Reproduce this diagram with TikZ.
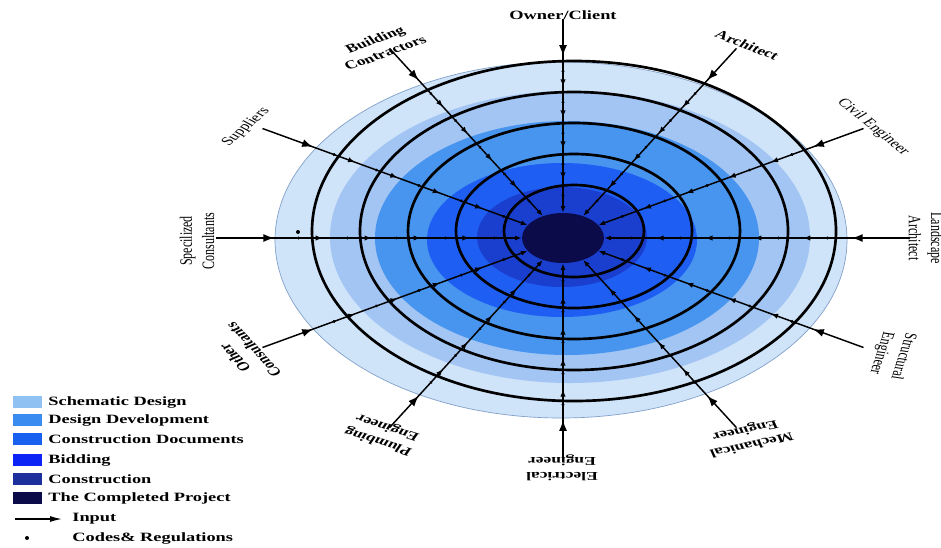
\documentclass[tikz,border=0pt]{standalone}
\usepackage{fontspec}
\setmainfont{Liberation Serif}
\usetikzlibrary{arrows.meta,decorations.markings,shapes.geometric,calc}
\definecolor{fA}{HTML}{CFE3F9}
\definecolor{fAe}{HTML}{7E9EC8}
\definecolor{fB}{HTML}{A3C5F3}
\definecolor{fC}{HTML}{4795EF}
\definecolor{fD}{HTML}{1F5EF3}
\definecolor{fE}{HTML}{1A3FCF}
\definecolor{fF}{HTML}{0B0B4A}
\definecolor{lgA}{HTML}{8FC1F2}
\definecolor{lgB}{HTML}{3B8CF0}
\definecolor{lgC}{HTML}{1760F0}
\definecolor{lgD}{HTML}{0B24F5}
\definecolor{lgE}{HTML}{1C2F9C}
\definecolor{lgF}{HTML}{0A0B48}
\begin{document}
\begin{tikzpicture}[x=0.75pt,y=-0.75pt,
  ring/.style={draw=black,line width=2pt},
  spoke/.style={line width=1.1pt,-{Latex[length=5pt,width=3.8pt]},
    postaction={decorate},
    decoration={markings,
      mark=at position 0.19 with {\arrow{Latex[length=8pt,width=6pt]}},
      mark=at position 0.27 with {\fill circle (1.2pt);},
      mark=at position 0.35 with {\arrow{Latex[length=5.5pt,width=4pt]}},
      mark=at position 0.43 with {\fill circle (1.2pt);},
      mark=at position 0.51 with {\arrow{Latex[length=5.5pt,width=4pt]}},
      mark=at position 0.59 with {\fill circle (1.2pt);},
      mark=at position 0.67 with {\arrow{Latex[length=5.5pt,width=4pt]}},
      mark=at position 0.75 with {\fill circle (1.2pt);},
      mark=at position 0.83 with {\arrow{Latex[length=5.5pt,width=4pt]}},
      mark=at position 0.91 with {\fill circle (1.2pt);}}},
  lab/.code={%
    \pgfmathsetmacro\labc{cos(#1)}%
    \pgfmathsetmacro\labs{sin(#1)}%
    \pgfmathsetmacro\labn{sqrt((\labc/1.45)^2+(\labs)^2)}%
    \pgfmathsetmacro\laba{\labc/\labn}%
    \pgfmathsetmacro\labb{\labs/\labn}%
    \pgfmathsetmacro\labcc{-1.45*\labs/\labn}%
    \pgfmathsetmacro\labd{\labc/(1.45*\labn)}%
    \tikzset{inner sep=0pt,align=center,font=\fontsize{9}{11.5}\selectfont,
      cm={\laba,\labb,\labcc,\labd,(0,0)}}},
  labB/.style={lab=#1,font=\fontsize{9}{11.5}\selectfont\bfseries},
  swatch/.style={rectangle,inner sep=0pt,minimum width=21.75pt,minimum height=8.5pt},
  legtext/.style={inner sep=0pt,anchor=west,font=\fontsize{9.5}{11}\selectfont\bfseries,xscale=1.45},
  dotn/.style={circle,fill=black,inner sep=0pt,minimum size=3pt}
]
\fill[white] (0,0) rectangle (941,547);
\useasboundingbox (0,0) rectangle (941,547);

% phase fills
\fill[fA,draw=fAe,line width=0.5pt] (561,240) ellipse [x radius=286,y radius=178];
\fill[fB] (570,237) ellipse [x radius=240,y radius=146];
\fill[fC] (567,238) ellipse [x radius=192,y radius=117];
\fill[fD] (562,240) ellipse [x radius=135,y radius=77];
\fill[fE] (562,237) ellipse [x radius=85,y radius=50];

% rings
\foreach \k in {0,...,4}
  \draw[ring] (574,231) ellipse [x radius={262-48*\k},y radius={170-31*\k}];

% completed project core
\node[ellipse,fill=fF,inner sep=0pt,minimum width=61.5pt,minimum height=37.5pt] (core) at (563,238) {};

% spokes
\foreach \a/\n in {90/own,60/arc,30/civ,0/lan,-30/str,-60/mec,-90/ele,-120/plu,-150/oth,180/spe,150/sup,120/bui}{
  \coordinate (s-\n) at ({563+347*cos(\a)},{238-219*sin(\a)});
  \draw[spoke] (s-\n) -- (core);
}

% codes & regulations dot
\node[dotn] (code) at (298,232) {};

% labels
\node[labB=0,font=\fontsize{9.5}{11}\selectfont\bfseries] (own) at (563,15) {Owner/Client};
\node[labB=20] (bui) at (380,46) {Building\\Contractors};
\node[lab=41] (sup) at (246,127) {Suppliers};
\node[lab=90] (spe) at (197,241) {Specilized\\Consultants};
\node[labB=133] (oth) at (244,354) {Other\\Consultants};
\node[labB=162] (plu) at (383,434) {Plumbing\\Engineer};
\node[labB=180] (ele) at (562,468) {Electrical\\Engineer};
\node[labB=192] (mec) at (748,437) {Mechanical\\Engineer};
\node[lab=252] (str) at (892,355) {Structural\\Engineer};
\node[lab=270] (lan) at (926,238) {Landscape\\Architect};
\node[lab=-39] (civ) at (873,127) {Civil Engineer};
\node[labB=-21] (arc) at (747,45) {Architect};

% legend
\foreach \y/\c/\t [count=\i] in {402/lgA/Schematic Design,420/lgB/Design Development,439/lgC/Construction Documents,460/lgD/Bidding,479/lgE/Construction,498/lgF/The Completed Project}{
  \node[swatch,fill=\c] (sw\i) at (27.5,\y) {};
  \node[legtext] (lt\i) at (48,\y) {\t};
}
\coordinate (inA) at (15,519);
\coordinate (inB) at (62,519);
\draw[line width=1pt,-{Latex[length=9pt,width=4.5pt]}] (inA) -- (inB);
\node[legtext] (ltin) at (72,519) {Input};
\node[dotn] (lgdot) at (27,538) {};
\node[legtext] (ltcd) at (72,538) {Codes\& Regulations};
\end{tikzpicture}
\end{document}
